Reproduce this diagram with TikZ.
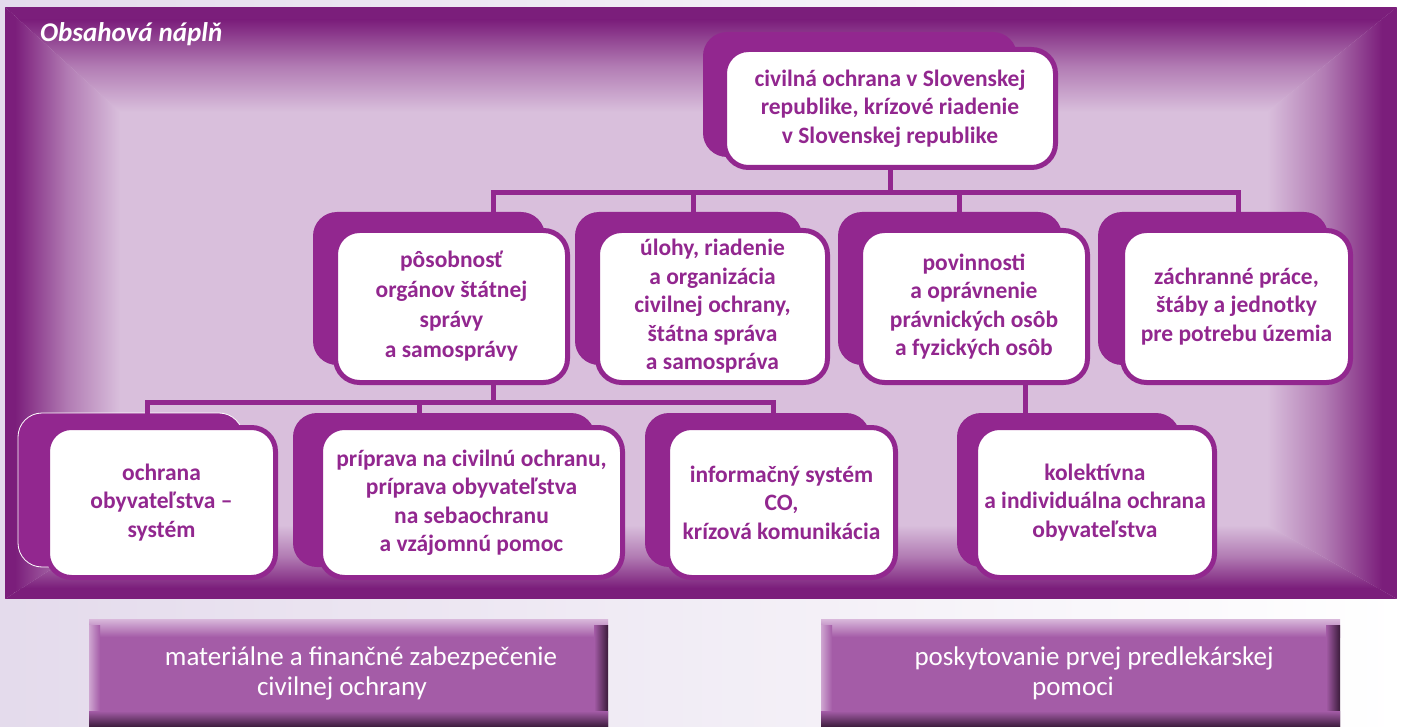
\documentclass[tikz,border=0pt]{standalone}
\usepackage{fontspec}
\setmainfont{Carlito}
\definecolor{dk}{HTML}{7B1E7B}
\definecolor{lt}{HTML}{D9BFDC}
\definecolor{pp}{HTML}{92278F}
\definecolor{barc}{HTML}{A45CA7}
\definecolor{barhi}{HTML}{D9B8DB}
\definecolor{barsh}{HTML}{3B1B3B}
\definecolor{pagebg}{HTML}{E4DBEC}
\begin{document}
\begin{tikzpicture}[x=1pt,y=-1pt,
  tab/.style={fill=pp, draw=none, rounded corners=24pt, inner sep=0pt},
  box/.style={fill=white, draw=pp, line width=5pt, rounded corners=24pt, align=center,
    text=pp, font=\fontsize{23.5}{28.5}\selectfont\bfseries, inner sep=0pt},
  conn/.style={draw=pp, line width=5pt, line cap=rect},
  bartext/.style={text=white, align=center, font=\fontsize{27}{30}\selectfont, inner sep=0pt}]
\useasboundingbox (0,0) rectangle (1403,727);
% page background
\shade[left color=pagebg, right color=white] (0,0) rectangle (1403,727);
% panel
\fill[lt] (5,7) rectangle (1397,599);
% top band
\begin{scope}
  \clip (5,7) -- (1397,7) -- (1267,112) -- (120,112) -- cycle;
  \fill[dk] (5,7) rectangle (1397,20);
  \shade[top color=dk, bottom color=lt, middle color=dk!42!lt] (5,20) rectangle (1397,112);
\end{scope}
% left band
\begin{scope}
  \clip (5,7) -- (120,112) -- (120,525) -- (5,599) -- cycle;
  \fill[dk] (5,7) rectangle (15,599);
  \shade[left color=dk, right color=lt, middle color=dk!42!lt] (15,7) rectangle (120,599);
\end{scope}
% right band
\begin{scope}
  \clip (1397,7) -- (1267,112) -- (1267,525) -- (1397,599) -- cycle;
  \fill[dk] (1382,7) rectangle (1397,599);
  \shade[left color=lt, right color=dk, middle color=dk!42!lt] (1267,7) rectangle (1382,599);
\end{scope}
% bottom band
\begin{scope}
  \clip (5,599) -- (120,525) -- (1267,525) -- (1397,599) -- cycle;
  \fill[dk] (5,588) rectangle (1397,599);
  \shade[top color=lt, bottom color=dk, middle color=dk!42!lt] (5,525) rectangle (1397,588);
\end{scope}

\node[anchor=base west, text=white, font=\fontsize{27}{30}\selectfont\bfseries\itshape, inner sep=0pt] (title) at (40,42) {Obsahová náplň};

% connector junctions
\coordinate (bus1) at (890,193);
\coordinate (bus1L) at (493,193);
\coordinate (bus1R) at (1238,193);
\coordinate (d2) at (693,193);
\coordinate (d3) at (959,193);
\coordinate (bus2M) at (493,402);
\coordinate (bus2L) at (147,402);
\coordinate (bus2R) at (773,402);
\coordinate (d5) at (419,402);
\coordinate (d7) at (1025,400);

% back tabs
\node[tab, minimum width=314pt, minimum height=125pt] (tT) at (860,94.5) {};
\node[tab, minimum width=232pt, minimum height=153pt] (tA) at (429,288.5) {};
\node[tab, minimum width=227pt, minimum height=153pt] (tB) at (688.5,288.5) {};
\node[tab, minimum width=224pt, minimum height=153pt] (tC) at (950,288.5) {};
\node[tab, minimum width=230pt, minimum height=153pt] (tD) at (1213,288.5) {};
\node[tab, draw=white, line width=0.8pt, minimum width=225pt, minimum height=154pt] (tE) at (130.5,490) {};
\node[tab, minimum width=302pt, minimum height=154pt] (tF) at (444,490) {};
\node[tab, minimum width=225pt, minimum height=154pt] (tG) at (757.5,490) {};
\node[tab, minimum width=223pt, minimum height=154pt] (tH) at (1068.5,490) {};

% front boxes
\node[box, minimum width=331pt, minimum height=118pt] (top) at (890,108.5)
  {civilná ochrana v Slovenskej\\republike, krízové riadenie\\v Slovenskej republike};
\node[box, minimum width=232pt, minimum height=152pt, font=\fontsize{23.5}{30}\selectfont\bfseries] (A) at (451.5,306.5)
  {pôsobnosť\\orgánov štátnej\\správy\\a samosprávy};
\node[box, minimum width=230pt, minimum height=152pt] (B) at (712.5,306.5)
  {úlohy, riadenie\\a organizácia\\civilnej ochrany,\\štátna správa\\a samospráva};
\node[box, minimum width=227pt, minimum height=152pt] (C) at (974,306.5)
  {povinnosti\\a oprávnenie\\právnických osôb\\a fyzických osôb};
\node[box, minimum width=228pt, minimum height=152pt] (D) at (1236.5,306.5)
  {záchranné práce,\\štáby a jednotky\\pre potrebu územia};
\node[box, minimum width=228pt, minimum height=150pt] (E) at (161.5,502.5)
  {ochrana\\obyvateľstva –\\systém};
\node[box, minimum width=302pt, minimum height=150pt] (F) at (471.5,502.5)
  {príprava na civilnú ochranu,\\príprava obyvateľstva\\na sebaochranu\\a vzájomnú pomoc};
\node[box, minimum width=228pt, minimum height=150pt] (G) at (781.5,502.5)
  {informačný systém\\CO,\\krízová komunikácia};
\node[box, minimum width=239pt, minimum height=150pt] (H) at (1095,502.5)
  {kolektívna\\a individuálna ochrana\\obyvateľstva};

% connectors
\draw[conn] (top.south) -- (bus1);
\draw[conn] (bus1L) -- (bus1R);
\draw[conn] (bus1L) -- (bus1L |- tA.north);
\draw[conn] (d2) -- (d2 |- tB.north);
\draw[conn] (d3) -- (d3 |- tC.north);
\draw[conn] (bus1R) -- (bus1R |- tD.north);
\draw[conn] (A.south -| bus2M) -- (bus2M);
\draw[conn] (bus2L) -- (bus2R);
\draw[conn] (bus2L) -- (bus2L |- tE.north);
\draw[conn] (d5) -- (d5 |- tF.north);
\draw[conn] (bus2R) -- (bus2R |- tG.north);
\draw[conn] (C.south -| d7) -- (d7 |- tH.north);

% bottom bars
\fill[barc] (89,619) rectangle (608,727);
\shade[top color=barhi, bottom color=barc] (89,619) rectangle (608,637);
\shade[left color=barhi!80!barc, right color=barc] (89,625) rectangle (100,727);
\shade[left color=barc, right color=barsh] (594,625) rectangle (608,727);
\shade[top color=barc, bottom color=barsh] (89,711) rectangle (608,727);
\fill[barc] (821,619) rectangle (1340,727);
\shade[top color=barhi, bottom color=barc] (821,619) rectangle (1340,637);
\shade[left color=barhi!80!barc, right color=barc] (821,625) rectangle (832,727);
\shade[left color=barc, right color=barsh] (1326,625) rectangle (1340,727);
\shade[top color=barc, bottom color=barsh] (821,711) rectangle (1340,727);
\node[bartext] (m1) at (361,673) {materiálne a finančné zabezpečenie\\civilnej ochrany\hspace*{38pt}};
\node[bartext] (m2) at (1094,673) {poskytovanie prvej predlekárskej\\pomoci\hspace*{42pt}};
\end{tikzpicture}
\end{document}
